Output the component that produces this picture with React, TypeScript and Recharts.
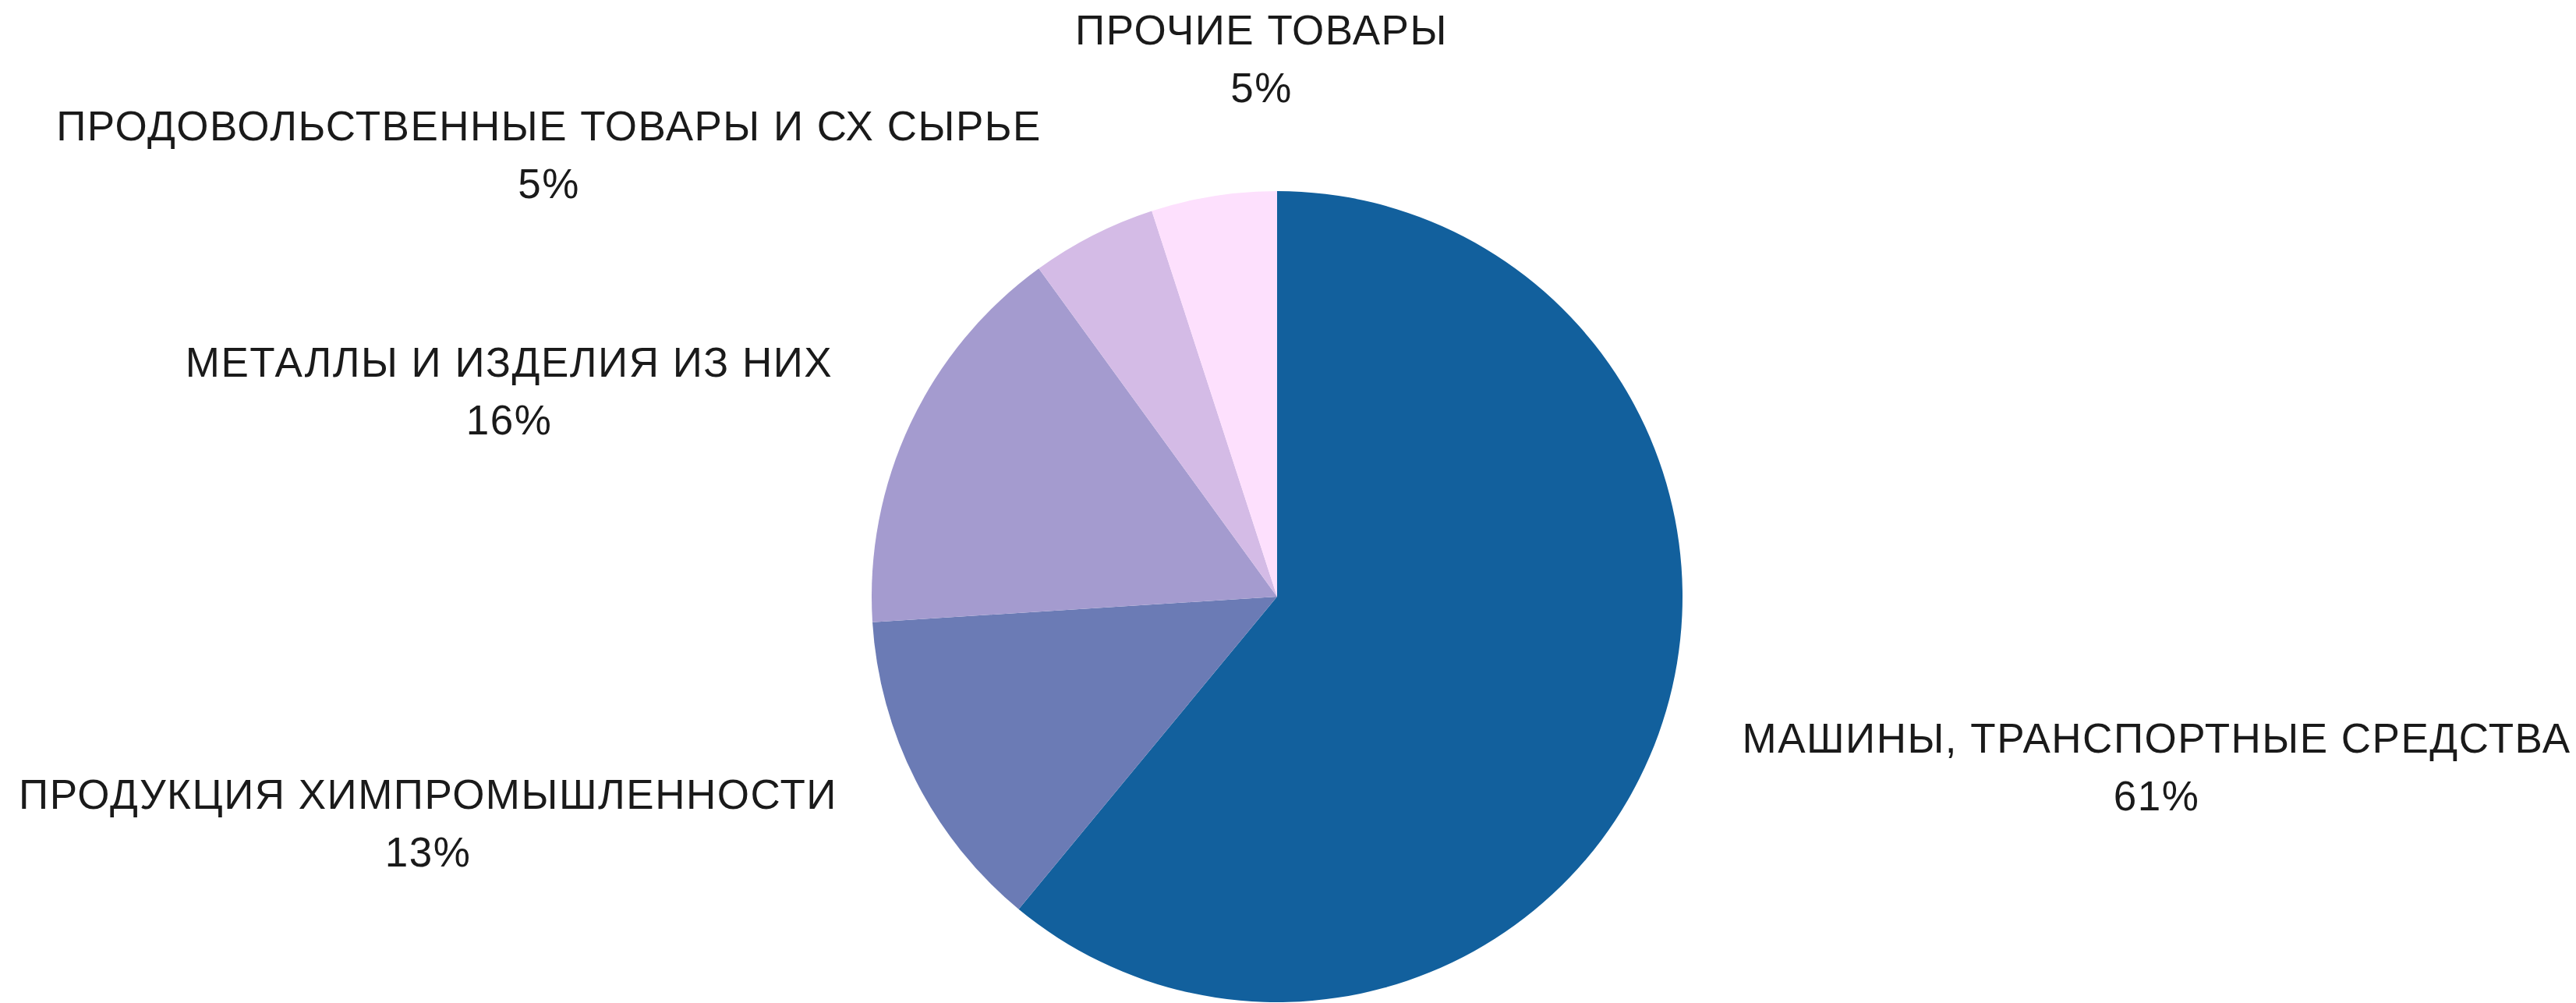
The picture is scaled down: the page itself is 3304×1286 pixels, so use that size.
import { PieChart, Pie, Cell } from 'recharts';

const CATEGORIES = [
  'МАШИНЫ, ТРАНСПОРТНЫЕ СРЕДСТВА',
  'ПРОДУКЦИЯ ХИМПРОМЫШЛЕННОСТИ',
  'МЕТАЛЛЫ И ИЗДЕЛИЯ ИЗ НИХ',
  'ПРОДОВОЛЬСТВЕННЫЕ ТОВАРЫ И СХ СЫРЬЕ',
  'ПРОЧИЕ ТОВАРЫ',
];
const SHARES = [61, 13, 16, 5, 5];

const COLORS = ['#12609D', '#6B7BB5', '#A49BCF', '#D4BBE6', '#FDE0FD'];

// label anchor offsets from the pie centre (x = text centre, y = first baseline)
const LABEL_OFFSETS = [
  { dx: 1128, dy: 200 },
  { dx: -1089, dy: 272 },
  { dx: -985, dy: -282 },
  { dx: -934, dy: -585 },
  { dx: -20, dy: -708 },
];

const W = 3304;
const H = 1286;
const CX = 1638;
const CY = 765;

const data = CATEGORIES.map((name, i) => ({ name, value: SHARES[i] }));

const FONT = "'Liberation Sans', Arial, sans-serif";

function renderLabel(props: any) {
  const { cx, cy, index, value } = props;
  const off = LABEL_OFFSETS[index];
  const x = cx + off.dx;
  const y = cy + off.dy;
  return (
    <g key={`lbl-${index}`}>
      <text
        x={x}
        y={y}
        textAnchor="middle"
        fill="#1a1a1a"
        fontSize={53}
        fontFamily={FONT}
        letterSpacing={1.5}
      >
        {CATEGORIES[index]}
      </text>
      <text
        x={x}
        y={y + 74}
        textAnchor="middle"
        fill="#1a1a1a"
        fontSize={53}
        fontFamily={FONT}
        letterSpacing={1.5}
      >
        {`${value}%`}
      </text>
    </g>
  );
}

export default function App() {
  return (
    <div style={{ position: 'absolute', left: 0, top: 0, width: W, height: H, background: '#fff' }}>
      <PieChart width={W} height={H} margin={{ top: 0, right: 0, bottom: 0, left: 0 }}>
        <Pie
          data={data}
          dataKey="value"
          nameKey="name"
          cx={CX}
          cy={CY}
          outerRadius={520}
          startAngle={90}
          endAngle={-270}
          stroke="none"
          label={renderLabel}
          labelLine={false}
          isAnimationActive={false}
        >
          {data.map((d, i) => (
            <Cell key={d.name} fill={COLORS[i]} />
          ))}
        </Pie>
      </PieChart>
    </div>
  );
}
